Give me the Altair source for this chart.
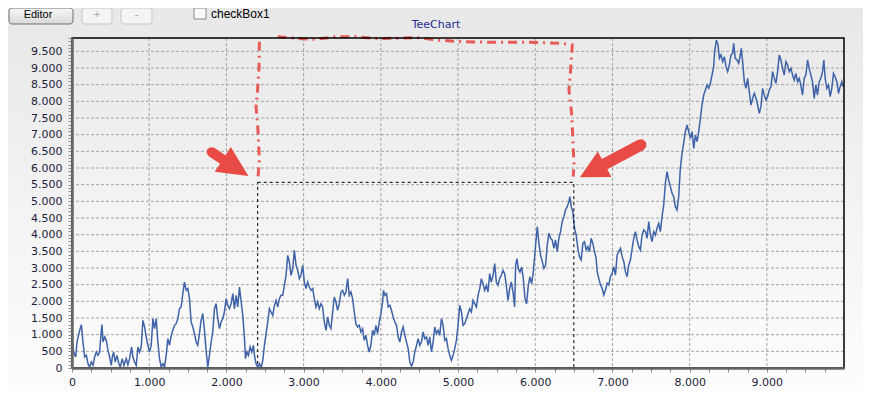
import altair as alt
import pandas as pd

# ---------------- data ----------------
series_x = [
    0, 22, 48, 65, 99, 121, 142, 164, 186, 207, 229, 250, 272, 293, 315, 336, 358, 371, 388, 401,
    423, 444, 466, 487, 509, 522, 539, 560, 582, 608, 625, 651, 673, 703, 724, 746, 772, 789, 810, 832,
    854, 875, 897, 918, 940, 961, 983, 1004, 1026, 1048, 1069, 1091, 1112, 1134, 1155, 1177, 1198, 1220, 1241, 1263,
    1285, 1306, 1328, 1349, 1371, 1392, 1414, 1435, 1457, 1479, 1500, 1522, 1543, 1565, 1586, 1608, 1629, 1651, 1672, 1694,
    1716, 1737, 1759, 1780, 1802, 1823, 1845, 1866, 1888, 1910, 1931, 1953, 1974, 1996, 2017, 2039,
    2061, 2083, 2104, 2126, 2147, 2169, 2191, 2212, 2234, 2247, 2264, 2285, 2307, 2328, 2350, 2363, 2384, 2406, 2428, 2449,
    2471, 2492, 2514, 2535, 2557, 2578, 2600, 2622, 2643, 2665, 2686, 2708, 2729, 2751, 2772, 2794, 2815, 2837, 2859, 2880,
    2902, 2923, 2945, 2966, 2988, 3009, 3031, 3053, 3074, 3096, 3117, 3139, 3160, 3182, 3203, 3225, 3246, 3268, 3290, 3311,
    3333, 3354, 3376, 3397, 3419, 3440, 3462, 3484, 3505, 3527, 3548, 3570, 3591, 3613, 3634, 3656, 3677, 3699, 3721, 3742,
    3764, 3785, 3807, 3828, 3850, 3871, 3893, 3915, 3936, 3958, 3979,
    4001, 4022, 4035, 4052, 4074, 4095, 4117, 4138, 4160, 4182, 4203, 4225, 4246, 4268, 4289, 4311, 4332, 4354, 4376, 4397,
    4419, 4440, 4462, 4483, 4505, 4526, 4548, 4569, 4591, 4613, 4634, 4656, 4677, 4699, 4720, 4742, 4763, 4785, 4807, 4828,
    4850, 4871, 4893, 4914, 4936, 4957, 4979, 5000, 5022, 5044, 5065, 5087, 5108, 5130, 5151, 5173, 5194, 5216, 5238, 5259,
    5281, 5302, 5324, 5345, 5367, 5388, 5410, 5431, 5453, 5475, 5496, 5518, 5539, 5561, 5582, 5604, 5625, 5647, 5669, 5690,
    5712, 5733, 5746, 5763, 5781, 5802, 5824, 5845, 5867, 5888, 5910, 5931, 5953, 5975,
    6005, 6026, 6048, 6069, 6091, 6112, 6134, 6155, 6177, 6199, 6220, 6242, 6263, 6285, 6306, 6328, 6349, 6371, 6392, 6414,
    6436, 6448, 6466, 6487, 6509, 6530, 6552, 6573, 6595, 6617, 6638, 6660, 6681, 6703, 6724, 6746, 6767, 6789, 6802, 6823,
    6845, 6867, 6888, 6910, 6931, 6953, 6974, 6996, 7017, 7039, 7061, 7082, 7104, 7125, 7147, 7168, 7190, 7211, 7233, 7255,
    7276, 7298, 7319, 7341, 7362, 7384, 7405, 7427, 7448, 7470, 7492, 7513, 7535, 7556, 7578, 7599, 7621, 7642, 7664, 7685,
    7707, 7728, 7750, 7772, 7793, 7815, 7836, 7858, 7879, 7901, 7922, 7944, 7966,
    8010, 8031, 8053, 8074, 8096, 8117, 8139, 8160, 8182, 8204, 8225, 8247, 8268, 8290, 8311, 8324, 8346, 8367, 8385, 8406,
    8428, 8449, 8471, 8492, 8514, 8535, 8557, 8570, 8591, 8613, 8635, 8656, 8669, 8686, 8708, 8729, 8751, 8772, 8794, 8816,
    8837, 8859, 8880, 8902, 8923, 8945, 8966, 8988, 9009, 9031, 9053, 9074, 9096, 9117, 9139, 9160, 9182, 9203, 9225, 9247,
    9268, 9290, 9311, 9333, 9354, 9376, 9397, 9419, 9440, 9462, 9484, 9505, 9527, 9548, 9570, 9591, 9613, 9634, 9656, 9678,
    9699, 9721, 9738, 9755, 9777, 9798, 9820, 9841, 9863, 9884, 9906, 9928, 9949, 9971, 9984,
]
series_y = [
    930, 480, 330, 780, 1130, 1300, 780, 330, 380, 130, 30, 180, 80, 330, 480, 380, 480, 880, 1300, 780,
    930, 830, 530, 330, 80, 330, 480, 180, 380, 130, 30, 280, 80, 280, 100, 280, 630, 330, 180, 80,
    630, 480, 630, 1430, 1230, 930, 680, 480, 680, 1480, 1180, 1480, 780, 280, 30, 130, 30, 380, 880, 680,
    980, 1130, 1280, 1330, 1480, 1780, 1830, 2230, 2580, 2330, 2380, 2080, 1380, 1230, 1030, 780, 680, 1030, 1430, 1630,
    1130, 530, 30, 380, 780, 1080, 1780, 1930, 1480, 1180, 1380, 1480, 1680, 2080, 1880, 1780,
    1930, 2230, 1780, 2180, 1830, 2430, 1980, 1580, 880, 280, 480, 380, 630, 480, 680, 380, 130, 30, 130, 0,
    230, 680, 1030, 1380, 1780, 1680, 1580, 1880, 2030, 1830, 2080, 2180, 2180, 2480, 2780, 3380, 3180, 2780, 2980, 3530,
    3080, 2930, 2680, 2780, 3080, 2580, 2380, 2580, 2430, 2330, 2380, 2080, 1830, 1980, 1780, 1930, 1830, 1380, 1130, 1530,
    1280, 1180, 1680, 2130, 1980, 1730, 1930, 2280, 2330, 2180, 2280, 2680, 2180, 2280, 2080, 1680, 1330, 1230, 1280, 1080,
    1180, 830, 980, 680, 480, 680, 1130, 980, 1280, 1030, 1380,
    1630, 1980, 2330, 2180, 2230, 1830, 1880, 1730, 1530, 1380, 1280, 930, 780, 1080, 1230, 980, 780, 580, 180, 60,
    180, 480, 680, 880, 680, 780, 1080, 880, 930, 680, 930, 480, 780, 1230, 1030, 1130, 980, 1480, 1280, 830,
    880, 580, 380, 230, 380, 580, 830, 1280, 1880, 1680, 1280, 1330, 1480, 1630, 1780, 1680, 2030, 1930, 1830, 2180,
    2380, 2680, 2530, 2330, 2480, 2280, 2830, 2580, 2780, 3130, 2580, 2480, 2680, 2780, 2930, 2830, 2480, 2030, 2380, 2580,
    2280, 1830, 3080, 3280, 2980, 2880, 3030, 2680, 2080, 1930, 2480, 2730, 2530, 2880,
    3690, 4240, 3740, 3390, 3190, 2990, 3090, 3690, 4040, 3890, 3840, 3590, 3840, 3490, 3890, 4090, 4390, 4540, 4740, 4840,
    4990, 5140, 4840, 4690, 4190, 3990, 3590, 3340, 3240, 3740, 3790, 3540, 3640, 3490, 3890, 3740, 3490, 3290, 2890, 2690,
    2490, 2390, 2190, 2340, 2540, 2490, 2740, 2840, 3040, 2790, 3390, 3490, 3590, 3340, 3190, 2890, 2740, 3090, 3240, 3590,
    3890, 4090, 3840, 3640, 3540, 3990, 4140, 4090, 3890, 4390, 3990, 3790, 4090, 3990, 4190, 4340, 4090, 4540, 4890, 5540,
    5890, 5640, 5440, 5240, 5140, 4840, 4740, 5140, 5990, 6440, 6740, 7090, 7290,
    6890, 7090, 6590, 6990, 6790, 7090, 7490, 7890, 8190, 8340, 8490, 8390, 8540, 8790, 9040, 9490, 9840, 9690, 9290, 9390,
    9190, 9340, 9040, 8890, 9090, 9390, 9440, 9740, 9290, 9240, 9140, 9390, 9590, 9190, 8590, 8390, 8690, 8290, 7890, 8090,
    8240, 8090, 7890, 7640, 7840, 8390, 8190, 8040, 8140, 8340, 8440, 8890, 8690, 8540, 8890, 9390, 9240, 8990, 8790, 9190,
    9090, 8890, 8990, 8790, 8640, 8840, 8590, 8690, 8490, 8190, 8690, 8790, 9240, 8990, 8790, 8590, 8090, 8490, 8190, 8590,
    8690, 8890, 9240, 8690, 8390, 8490, 8140, 8390, 8840, 8740, 8590, 8240, 8440, 8590, 8440,
]

y_ticks = list(range(0, 9901, 100))
x_ticks = list(range(0, 10000, 250))
y_grid = [500, 1000, 1500, 2000, 2500, 3000, 3500, 4000, 4500, 5000,
          5500, 6000, 6500, 7000, 7500, 8000, 8500, 9000, 9500]
x_grid = [1000, 2000, 3000, 4000, 5000, 6000, 7000, 8000, 9000]

# dotted zoom rectangle
zoom_x1 = [2405]
zoom_x2 = [6500]
zoom_y1 = [0]
zoom_y2 = [5570]

# hand-drawn red dashed annotation
red_group = ["a"] * 7 + ["b"] * 19
red_x = [2427, 2423, 2401, 2384, 2406, 2427, 2410,
         2664, 2902, 3160, 3419, 3678, 3979, 4496, 4712, 5056, 5488, 5919, 6350, 6479,
         6458, 6436, 6471, 6488, 6501, 6492]
red_y = [9790, 9040, 8240, 7840, 7240, 6240, 5740,
         9940, 9890, 9860, 9940, 9940, 9880, 9910, 9840, 9790, 9770, 9770, 9740, 9690,
         8940, 8340, 7640, 6840, 6140, 5740]

# arrows (centre point and direction)
arrow_l = {"x": [2046], "y": [6117], "angle": [33]}
arrow_r = {"x": [6973], "y": [6207], "angle": [152]}

# ---------------- chart ----------------
W, H = 772, 330
FONT = "DejaVu Sans"
LINE_COLOR = "#3e63a8"
RED = "#e84a45"

xs = alt.Scale(domain=[0, 9999], nice=False, zero=False)
ys = alt.Scale(domain=[0, 9900], nice=False, zero=False)

fmt = "replace(format(datum.value, ','), ',', '.')"
x_axis = alt.Axis(
    values=x_ticks, labelExpr=f"datum.value % 1000 == 0 ? {fmt} : ''",
    grid=False, ticks=True, tickSize=4, tickColor="#8c8c8c",
    domain=True, domainColor="#666666", domainWidth=2.5,
    labelFont=FONT, labelFontSize=11, labelColor="#1c1c3a", labelPadding=4,
    labelOverlap=False, labelFlush=False, zindex=2, title=None)
y_axis = alt.Axis(
    values=y_ticks, labelExpr=f"datum.value % 500 == 0 ? {fmt} : ''",
    grid=False, ticks=True, tickSize=4, tickColor="#8c8c8c",
    domain=True, domainColor="#666666", domainWidth=2.5,
    labelFont=FONT, labelFontSize=11, labelColor="#1c1c3a", labelPadding=6,
    labelOverlap=False, labelFlush=False, zindex=2, title=None)


def X(field):
    return alt.X(field, scale=xs, axis=x_axis, title=None)


def Y(field):
    return alt.Y(field, scale=ys, axis=y_axis, title=None)


df = pd.DataFrame({"x": series_x, "y": series_y})
one = alt.Data(values=[{}])

bg = alt.Chart(one).mark_rect(
    fill=alt.LinearGradient(
        gradient="linear",
        stops=[alt.GradientStop(color="#e8e8e8", offset=0),
               alt.GradientStop(color="#fdfdfd", offset=1)],
        x1=0, x2=0, y1=0, y2=1,
    )
).encode(x=alt.value(-64), x2=alt.value(W + 19), y=alt.value(-30), y2=alt.value(H + 22))

ygrid = alt.Chart(pd.DataFrame({"v": y_grid})).mark_rule(
    color="#a4a4a4", strokeDash=[3, 2], strokeWidth=1
).encode(y=Y("v:Q"))

xgrid = alt.Chart(pd.DataFrame({"v": x_grid})).mark_rule(
    color="#a4a4a4", strokeDash=[3, 2], strokeWidth=1
).encode(x=X("v:Q"))

line = alt.Chart(df).mark_line(color=LINE_COLOR, strokeWidth=1.5).encode(
    x=X("x:Q"), y=Y("y:Q"))

zoom = alt.Chart(pd.DataFrame({"x1": zoom_x1, "x2": zoom_x2, "y1": zoom_y1, "y2": zoom_y2})).mark_rect(
    fillOpacity=0, stroke="black", strokeWidth=1, strokeDash=[3, 3]
).encode(x=X("x1:Q"), x2="x2:Q", y=Y("y1:Q"), y2="y2:Q")

red_df = pd.DataFrame({"g": red_group, "x": red_x, "y": red_y, "i": list(range(len(red_x)))})
red = alt.Chart(red_df).mark_line(
    color=RED, strokeWidth=3, strokeDash=[9, 5, 2, 5], opacity=0.9
).encode(x=X("x:Q"), y=Y("y:Q"), detail="g:N", order="i:Q")

left_path = ("M-1,-0.23L-0.39,-0.23L-0.39,-0.67L1,0L-0.39,0.67L-0.39,0.23L-1,0.23"
             "L-1.16,0.16L-1.23,0L-1.16,-0.16Z")
right_path = ("M-1,-0.17L0.19,-0.17L0.19,-0.42L1,0L0.19,0.42L0.19,0.17L-1,0.17"
              "L-1.12,0.12L-1.17,0L-1.12,-0.12Z")

arrowL = alt.Chart(pd.DataFrame(arrow_l)).mark_point(
    shape=left_path, size=1936, filled=True, fill=RED, opacity=1, strokeWidth=0
).encode(x=X("x:Q"), y=Y("y:Q"), angle=alt.Angle("angle:Q", scale=None))

arrowR = alt.Chart(pd.DataFrame(arrow_r)).mark_point(
    shape=right_path, size=4761, filled=True, fill=RED, opacity=1, strokeWidth=0
).encode(x=X("x:Q"), y=Y("y:Q"), angle=alt.Angle("angle:Q", scale=None))

border = alt.Chart(one).mark_rect(fillOpacity=0, stroke="black", strokeWidth=1.5).encode(
    x=alt.value(0), x2=alt.value(W), y=alt.value(0), y2=alt.value(H))

# ---- toolbar of the hosting form ----
btn_fill = alt.LinearGradient(
    gradient="linear",
    stops=[alt.GradientStop(color="#f7f7f7", offset=0),
           alt.GradientStop(color="#d9d9d9", offset=1)],
    x1=0, x2=0, y1=0, y2=1,
)
editor_btn = alt.Chart(one).mark_rect(fill=btn_fill, stroke="#707070", strokeWidth=1, cornerRadius=3).encode(
    x=alt.value(-63), x2=alt.value(1), y=alt.value(-30), y2=alt.value(-14))
editor_txt = alt.Chart(one).mark_text(text="Editor", font="Liberation Sans", fontSize=11,
                                       color="black", align="center", baseline="middle").encode(
    x=alt.value(-34), y=alt.value(-23))
plus_btn = alt.Chart(one).mark_rect(fill="#f4f4f4", stroke="#c6c6c6", strokeWidth=1, cornerRadius=3).encode(
    x=alt.value(10), x2=alt.value(40), y=alt.value(-30), y2=alt.value(-14))
plus_txt = alt.Chart(one).mark_text(text="+", font="Liberation Sans", fontSize=11,
                                     color="#a8a8a8", align="center", baseline="middle").encode(
    x=alt.value(25), y=alt.value(-23))
minus_btn = alt.Chart(one).mark_rect(fill="#f4f4f4", stroke="#c6c6c6", strokeWidth=1, cornerRadius=3).encode(
    x=alt.value(49), x2=alt.value(80), y=alt.value(-30), y2=alt.value(-14))
minus_txt = alt.Chart(one).mark_text(text="-", font="Liberation Sans", fontSize=11,
                                      color="#a8a8a8", align="center", baseline="middle").encode(
    x=alt.value(64.5), y=alt.value(-23))
check_box = alt.Chart(one).mark_rect(fill="#fbfbfb", stroke="#8a8a8a", strokeWidth=1).encode(
    x=alt.value(122), x2=alt.value(134), y=alt.value(-30), y2=alt.value(-19))
check_txt = alt.Chart(one).mark_text(text="checkBox1", font="Liberation Sans", fontSize=12,
                                      color="black", align="left", baseline="middle").encode(
    x=alt.value(139), y=alt.value(-24))
title_txt = alt.Chart(one).mark_text(text="TeeChart", font=FONT, fontSize=11,
                                      color="#1f2c90", align="center", baseline="middle").encode(
    x=alt.value(364), y=alt.value(-13))

chart = alt.layer(
    bg, ygrid, xgrid, line, zoom, red, arrowL, arrowR, border,
    editor_btn, editor_txt, plus_btn, plus_txt, minus_btn, minus_txt, check_box, check_txt, title_txt,
).properties(
    width=W, height=H,
    padding={"left": 64, "top": 30, "right": 19, "bottom": 22},
    autosize=alt.AutoSizeParams(type="none"),
    background="#f0f0f0",
).configure_view(strokeWidth=0)

chart.save("out.html", embed_options={"renderer": "svg", "actions": False})
